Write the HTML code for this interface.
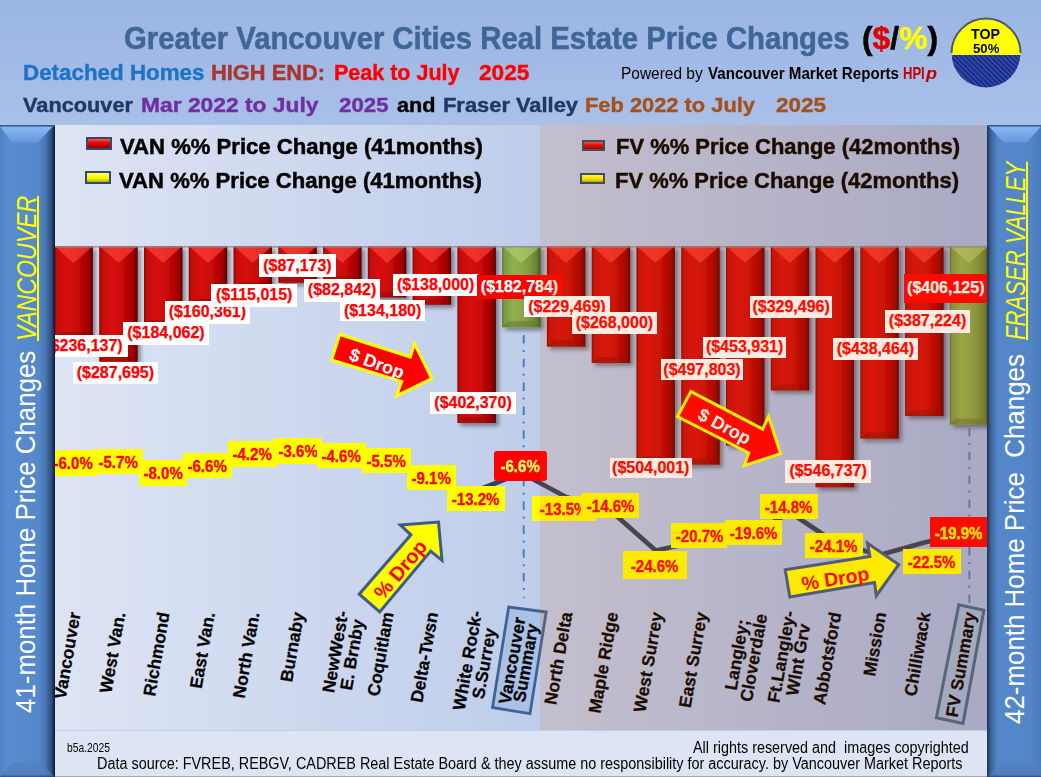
<!DOCTYPE html><html><head><meta charset="utf-8"><style>
html,body{margin:0;padding:0}
body{width:1041px;height:777px;position:relative;overflow:hidden;background:linear-gradient(#9bb5e3,#a9c0e8 125px);font-family:"Liberation Sans",sans-serif}
.t{position:absolute;white-space:pre;transform-origin:0 0}
.box{position:absolute;white-space:pre;font-weight:bold;text-align:center;box-sizing:border-box;overflow:visible}
.dl{background:#fff;color:#f00;font-size:16px;-webkit-text-stroke-width:0.25px}
.pl{background:#ff0;color:#f00;font-size:16.2px}
.pl span{-webkit-text-stroke-width:0.35px;display:inline-block;transform:scaleX(0.93);position:relative;top:1px}
.cl{-webkit-text-stroke-width:0.25px;position:absolute;white-space:pre;font-weight:bold;font-size:17.4px;line-height:16.5px;text-align:center;transform-origin:100% 50%;color:#000}
svg{position:absolute;left:0;top:0}
</style></head><body>

<div class="t" style="left:124.4px;top:22.5px;font-size:30.5px;line-height:30.5px;color:#3f6697;font-weight:bold;font-style:normal;transform:scaleX(0.9596);-webkit-text-stroke-width:0.5px;">Greater Vancouver Cities Real Estate Price Changes</div>
<div class="t" style="left:861.5px;top:22.5px;font-size:30.5px;line-height:30.5px;font-weight:bold;color:#000;-webkit-text-stroke-width:0.5px;transform:scaleX(1.0429)">(<span style="color:#e00000">$</span>/<span style="color:#ffff00">%</span>)</div>
<div class="t" style="left:22.5px;top:62.1px;font-size:22.2px;line-height:22.2px;color:#1e73c6;font-weight:bold;font-style:normal;transform:scaleX(1.0082);-webkit-text-stroke-width:0.4px;">Detached Homes</div>
<div class="t" style="left:211.0px;top:62.1px;font-size:22.2px;line-height:22.2px;color:#a8362c;font-weight:bold;font-style:normal;transform:scaleX(0.9840);-webkit-text-stroke-width:0.4px;">HIGH END:</div>
<div class="t" style="left:333.5px;top:62.1px;font-size:22.2px;line-height:22.2px;color:#ff0000;font-weight:bold;font-style:normal;transform:scaleX(0.9690);-webkit-text-stroke-width:0.4px;">Peak to July</div>
<div class="t" style="left:478.5px;top:62.1px;font-size:22.2px;line-height:22.2px;color:#ff0000;font-weight:bold;font-style:normal;transform:scaleX(1.0228);-webkit-text-stroke-width:0.4px;">2025</div>
<div class="t" style="left:22.5px;top:94.5px;font-size:20.6px;line-height:20.6px;color:#1f3864;font-weight:bold;font-style:normal;transform:scaleX(1.0561);-webkit-text-stroke-width:0.4px;">Vancouver</div>
<div class="t" style="left:141.0px;top:94.5px;font-size:20.6px;line-height:20.6px;color:#7030a0;font-weight:bold;font-style:normal;transform:scaleX(1.1078);-webkit-text-stroke-width:0.4px;">Mar 2022 to July</div>
<div class="t" style="left:339.0px;top:94.5px;font-size:20.6px;line-height:20.6px;color:#7030a0;font-weight:bold;font-style:normal;transform:scaleX(1.0805);-webkit-text-stroke-width:0.4px;">2025</div>
<div class="t" style="left:396.5px;top:94.5px;font-size:20.6px;line-height:20.6px;color:#000000;font-weight:bold;font-style:normal;transform:scaleX(1.0516);-webkit-text-stroke-width:0.4px;">and</div>
<div class="t" style="left:442.5px;top:94.5px;font-size:20.6px;line-height:20.6px;color:#1f3864;font-weight:bold;font-style:normal;transform:scaleX(1.0623);-webkit-text-stroke-width:0.4px;">Fraser Valley</div>
<div class="t" style="left:585.0px;top:94.5px;font-size:20.6px;line-height:20.6px;color:#a3521e;font-weight:bold;font-style:normal;transform:scaleX(1.0610);-webkit-text-stroke-width:0.4px;">Feb 2022 to July</div>
<div class="t" style="left:776.0px;top:94.5px;font-size:20.6px;line-height:20.6px;color:#a3521e;font-weight:bold;font-style:normal;transform:scaleX(1.0914);-webkit-text-stroke-width:0.4px;">2025</div>
<div class="t" style="left:621.4px;top:65.2px;font-size:16.5px;line-height:16.5px;color:#000;font-weight:normal;font-style:normal;transform:scaleX(0.9368);">Powered by</div>
<div class="t" style="left:708.0px;top:65.2px;font-size:16.5px;line-height:16.5px;color:#000;font-weight:bold;font-style:normal;transform:scaleX(0.9177);">Vancouver Market Reports</div>
<div class="t" style="left:903.3px;top:65.2px;font-size:16.5px;line-height:16.5px;color:#c00000;font-weight:bold;font-style:normal;transform:scaleX(0.7891);">HPI</div>
<div class="t" style="left:925.5px;top:65.2px;font-size:16.5px;line-height:16.5px;color:#c00000;font-weight:bold;font-style:italic;transform:scaleX(1.1014);">p</div>
<svg width="1041" height="777" style="left:0;top:0">
<defs><pattern id="hatch" width="3.5" height="3.5" patternUnits="userSpaceOnUse" patternTransform="rotate(-45)"><rect width="3.5" height="3.5" fill="#1b2c88"/><rect width="1.1" height="3.5" fill="#3a58b8"/></pattern>
<clipPath id="cc"><circle cx="986" cy="53" r="34.5"/></clipPath></defs>
<g clip-path="url(#cc)"><rect x="950" y="16" width="72" height="39" fill="#ffff00"/><rect x="950" y="55" width="72" height="34" fill="url(#hatch)"/></g>
<path d="M951.5,53 A34.5,34.5 0 0 1 1020.5,53" fill="none" stroke="#4a5570" stroke-width="2"/>
</svg>
<div class="t" style="left:971.0px;top:26.7px;font-size:14.5px;line-height:14.5px;color:#000;font-weight:bold;font-style:normal;transform:scaleX(0.9815);">TOP</div>
<div class="t" style="left:972.6px;top:41.5px;font-size:13.5px;line-height:13.5px;color:#000;font-weight:bold;font-style:normal;transform:scaleX(0.9766);">50%</div>
<div style="position:absolute;left:55px;top:125px;width:932px;height:605px;background:linear-gradient(90deg,#dde4f4 0%,#bfcdea 52%,#a1b5e0 100%)"></div>
<div style="position:absolute;left:55px;top:730px;width:932px;height:47px;background:#dde4f3;border-top:1px solid #b9d0ee;border-bottom:1px solid #a8a8ac;box-sizing:border-box"></div>
<svg width="1041" height="777"><defs><linearGradient id="gr" x1="0" x2="1"><stop offset="0" stop-color="#8c0404"/><stop offset="0.05" stop-color="#c00806"/><stop offset="0.3" stop-color="#d80e0a"/><stop offset="0.55" stop-color="#cc0a08"/><stop offset="0.75" stop-color="#b60404"/><stop offset="0.9" stop-color="#9a0202"/><stop offset="1" stop-color="#5a0000"/></linearGradient><linearGradient id="gg" x1="0" x2="1"><stop offset="0" stop-color="#5a6e2c"/><stop offset="0.05" stop-color="#7c9840"/><stop offset="0.3" stop-color="#92b050"/><stop offset="0.55" stop-color="#88a648"/><stop offset="0.75" stop-color="#7a963e"/><stop offset="0.9" stop-color="#688232"/><stop offset="1" stop-color="#44561e"/></linearGradient><filter id="sh" x="-20%" y="-5%" width="150%" height="120%"><feGaussianBlur in="SourceAlpha" stdDeviation="2"/><feOffset dx="2.5" dy="2.5"/><feComponentTransfer><feFuncA type="linear" slope="0.4"/></feComponentTransfer><feMerge><feMergeNode/><feMergeNode in="SourceGraphic"/></feMerge></filter></defs><g filter="url(#sh)"><rect x="54.4" y="246" width="38.5" height="92.0" fill="url(#gr)"/><polygon points="54.4,246 92.9,246 73.7,263.0" fill="#ff4a44" opacity="0.6"/><polygon points="54.4,338.0 92.9,338.0 86.9,332.0 60.4,332.0" fill="#8e0a06" opacity="0.55"/></g><g filter="url(#sh)"><rect x="99.2" y="246" width="38.5" height="115.7" fill="url(#gr)"/><polygon points="99.2,246 137.7,246 118.5,263.0" fill="#ff4a44" opacity="0.6"/><polygon points="99.2,361.7 137.7,361.7 131.7,355.7 105.2,355.7" fill="#8e0a06" opacity="0.55"/></g><g filter="url(#sh)"><rect x="144.0" y="246" width="38.5" height="80.0" fill="url(#gr)"/><polygon points="144.0,246 182.5,246 163.2,263.0" fill="#ff4a44" opacity="0.6"/><polygon points="144.0,326.0 182.5,326.0 176.5,320.0 150.0,320.0" fill="#8e0a06" opacity="0.55"/></g><g filter="url(#sh)"><rect x="188.7" y="246" width="38.5" height="59.0" fill="url(#gr)"/><polygon points="188.7,246 227.2,246 208.0,263.0" fill="#ff4a44" opacity="0.6"/><polygon points="188.7,305.0 227.2,305.0 221.2,299.0 194.7,299.0" fill="#8e0a06" opacity="0.55"/></g><g filter="url(#sh)"><rect x="233.5" y="246" width="38.5" height="42.0" fill="url(#gr)"/><polygon points="233.5,246 272.0,246 252.8,263.0" fill="#ff4a44" opacity="0.6"/><polygon points="233.5,288.0 272.0,288.0 266.0,282.0 239.5,282.0" fill="#8e0a06" opacity="0.55"/></g><g filter="url(#sh)"><rect x="278.3" y="246" width="38.5" height="36.8" fill="url(#gr)"/><polygon points="278.3,246 316.8,246 297.5,263.0" fill="#ff4a44" opacity="0.6"/><polygon points="278.3,282.8 316.8,282.8 310.8,276.8 284.3,276.8" fill="#8e0a06" opacity="0.55"/></g><g filter="url(#sh)"><rect x="323.1" y="246" width="38.5" height="36.0" fill="url(#gr)"/><polygon points="323.1,246 361.6,246 342.3,263.0" fill="#ff4a44" opacity="0.6"/><polygon points="323.1,282.0 361.6,282.0 355.6,276.0 329.1,276.0" fill="#8e0a06" opacity="0.55"/></g><g filter="url(#sh)"><rect x="367.8" y="246" width="38.5" height="51.5" fill="url(#gr)"/><polygon points="367.8,246 406.3,246 387.1,263.0" fill="#ff4a44" opacity="0.6"/><polygon points="367.8,297.5 406.3,297.5 400.3,291.5 373.8,291.5" fill="#8e0a06" opacity="0.55"/></g><g filter="url(#sh)"><rect x="412.6" y="246" width="38.5" height="58.7" fill="url(#gr)"/><polygon points="412.6,246 451.1,246 431.8,263.0" fill="#ff4a44" opacity="0.6"/><polygon points="412.6,304.7 451.1,304.7 445.1,298.7 418.6,298.7" fill="#8e0a06" opacity="0.55"/></g><g filter="url(#sh)"><rect x="457.4" y="246" width="38.5" height="177.0" fill="url(#gr)"/><polygon points="457.4,246 495.9,246 476.6,263.0" fill="#ff4a44" opacity="0.6"/><polygon points="457.4,423.0 495.9,423.0 489.9,417.0 463.4,417.0" fill="#8e0a06" opacity="0.55"/></g><g filter="url(#sh)"><rect x="502.1" y="246" width="38.5" height="81.3" fill="url(#gg)"/><polygon points="502.1,246 540.6,246 521.4,263.0" fill="#b4d078" opacity="0.6"/><polygon points="502.1,327.3 540.6,327.3 534.6,321.3 508.1,321.3" fill="#5e7630" opacity="0.55"/></g><g filter="url(#sh)"><rect x="546.9" y="246" width="38.5" height="100.6" fill="url(#gr)"/><polygon points="546.9,246 585.4,246 566.1,263.0" fill="#ff4a44" opacity="0.6"/><polygon points="546.9,346.6 585.4,346.6 579.4,340.6 552.9,340.6" fill="#8e0a06" opacity="0.55"/></g><g filter="url(#sh)"><rect x="591.7" y="246" width="38.5" height="117.0" fill="url(#gr)"/><polygon points="591.7,246 630.2,246 610.9,263.0" fill="#ff4a44" opacity="0.6"/><polygon points="591.7,363.0 630.2,363.0 624.2,357.0 597.7,357.0" fill="#8e0a06" opacity="0.55"/></g><g filter="url(#sh)"><rect x="636.4" y="246" width="38.5" height="216.0" fill="url(#gr)"/><polygon points="636.4,246 674.9,246 655.7,263.0" fill="#ff4a44" opacity="0.6"/><polygon points="636.4,462.0 674.9,462.0 668.9,456.0 642.4,456.0" fill="#8e0a06" opacity="0.55"/></g><g filter="url(#sh)"><rect x="681.2" y="246" width="38.5" height="218.6" fill="url(#gr)"/><polygon points="681.2,246 719.7,246 700.5,263.0" fill="#ff4a44" opacity="0.6"/><polygon points="681.2,464.6 719.7,464.6 713.7,458.6 687.2,458.6" fill="#8e0a06" opacity="0.55"/></g><g filter="url(#sh)"><rect x="726.0" y="246" width="38.5" height="199.5" fill="url(#gr)"/><polygon points="726.0,246 764.5,246 745.2,263.0" fill="#ff4a44" opacity="0.6"/><polygon points="726.0,445.5 764.5,445.5 758.5,439.5 732.0,439.5" fill="#8e0a06" opacity="0.55"/></g><g filter="url(#sh)"><rect x="770.8" y="246" width="38.5" height="144.4" fill="url(#gr)"/><polygon points="770.8,246 809.2,246 790.0,263.0" fill="#ff4a44" opacity="0.6"/><polygon points="770.8,390.4 809.2,390.4 803.2,384.4 776.8,384.4" fill="#8e0a06" opacity="0.55"/></g><g filter="url(#sh)"><rect x="815.5" y="246" width="38.5" height="241.2" fill="url(#gr)"/><polygon points="815.5,246 854.0,246 834.8,263.0" fill="#ff4a44" opacity="0.6"/><polygon points="815.5,487.2 854.0,487.2 848.0,481.2 821.5,481.2" fill="#8e0a06" opacity="0.55"/></g><g filter="url(#sh)"><rect x="860.3" y="246" width="38.5" height="192.5" fill="url(#gr)"/><polygon points="860.3,246 898.8,246 879.5,263.0" fill="#ff4a44" opacity="0.6"/><polygon points="860.3,438.5 898.8,438.5 892.8,432.5 866.3,432.5" fill="#8e0a06" opacity="0.55"/></g><g filter="url(#sh)"><rect x="905.1" y="246" width="38.5" height="170.0" fill="url(#gr)"/><polygon points="905.1,246 943.6,246 924.3,263.0" fill="#ff4a44" opacity="0.6"/><polygon points="905.1,416.0 943.6,416.0 937.6,410.0 911.1,410.0" fill="#8e0a06" opacity="0.55"/></g><g filter="url(#sh)"><rect x="949.8" y="246" width="38.5" height="178.6" fill="url(#gg)"/><polygon points="949.8,246 988.3,246 969.1,263.0" fill="#b4d078" opacity="0.6"/><polygon points="949.8,424.6 988.3,424.6 982.3,418.6 955.8,418.6" fill="#5e7630" opacity="0.55"/></g><line x1="55" y1="246.8" x2="987" y2="246.8" stroke="#8c8c8c" stroke-width="1.2"/><line x1="523.7" y1="335" x2="523.7" y2="598" stroke="#4a7ec0" stroke-width="2" stroke-dasharray="8.5,6.5,2,6.8"/><line x1="969.4" y1="428" x2="969.4" y2="604" stroke="#4a7ec0" stroke-width="2" stroke-dasharray="8.5,6.5,2,6.8"/><polyline points="73.7,462.7 118.4,461.2 163.2,472.8 208.0,465.5 252.7,454.0 297.5,450.8 342.3,455.7 387.0,458.5 431.8,486.0 476.6,490.5 521.4,473.0 566.1,497.0 610.9,511.0 655.7,550.5 700.4,541.0 745.2,538.0 790.0,512.5 834.7,542.0 879.5,555.0 924.3,542.5 969.1,533.0" fill="none" stroke="#34425c" stroke-width="4.8" stroke-linejoin="round"/></svg>
<svg width="1041" height="777"><polygon points="546.2,612 508.7,607 492.5,707.5 530,713.7" fill="#a9c1e6" stroke="#3f6392" stroke-width="2.8"/><polygon points="983.9,610.3 958.8,604.7 936.4,717.8 963,723.4" fill="#9cb4d8" stroke="#42678b" stroke-width="3"/></svg>
<div class="box dl" style="left:40.0px;top:334.7px;width:88.0px;height:22.1px;line-height:22.1px;">($236,137)</div>
<div class="box dl" style="left:73.0px;top:362.0px;width:84.8px;height:22.0px;line-height:22.0px;">($287,695)</div>
<div class="box dl" style="left:123.2px;top:321.9px;width:85.6px;height:22.8px;line-height:22.8px;">($184,062)</div>
<div class="box dl" style="left:164.7px;top:301.2px;width:85.3px;height:22.8px;line-height:22.8px;">($160,361)</div>
<div class="box dl" style="left:211.4px;top:284.2px;width:85.6px;height:22.8px;line-height:22.8px;">($115,015)</div>
<div class="box dl" style="left:259.2px;top:254.0px;width:76.5px;height:23.1px;line-height:23.1px;">($87,173)</div>
<div class="box dl" style="left:304.3px;top:279.0px;width:75.5px;height:22.6px;line-height:22.6px;">($82,842)</div>
<div class="box dl" style="left:340.4px;top:299.5px;width:84.4px;height:21.9px;line-height:21.9px;">($134,180)</div>
<div class="box dl" style="left:393.2px;top:273.8px;width:84.8px;height:22.6px;line-height:22.6px;">($138,000)</div>
<div class="box dl" style="left:430.3px;top:392.2px;width:85.5px;height:21.8px;line-height:21.8px;">($402,370)</div>
<div class="box dl" style="left:477.0px;top:274.7px;width:85.0px;height:23.9px;line-height:23.9px;background:#f00;color:#fff;">($182,784)</div>
<div class="box dl" style="left:524.2px;top:296.4px;width:85.5px;height:21.1px;line-height:21.1px;">($229,469)</div>
<div class="box dl" style="left:571.9px;top:312.4px;width:85.1px;height:21.3px;line-height:21.3px;">($268,000)</div>
<div class="box dl" style="left:609.5px;top:457.7px;width:82.5px;height:20.8px;line-height:20.8px;">($504,001)</div>
<div class="box dl" style="left:660.6px;top:359.3px;width:82.8px;height:21.2px;line-height:21.2px;">($497,803)</div>
<div class="box dl" style="left:703.4px;top:336.7px;width:82.4px;height:20.9px;line-height:20.9px;">($453,931)</div>
<div class="box dl" style="left:750.3px;top:296.0px;width:81.7px;height:21.6px;line-height:21.6px;">($329,496)</div>
<div class="box dl" style="left:785.2px;top:460.4px;width:85.8px;height:22.6px;line-height:22.6px;">($546,737)</div>
<div class="box dl" style="left:832.8px;top:338.4px;width:85.2px;height:21.2px;line-height:21.2px;">($438,464)</div>
<div class="box dl" style="left:885.0px;top:310.0px;width:85.1px;height:22.5px;line-height:22.5px;">($387,224)</div>
<div class="box dl" style="left:904.1px;top:274.1px;width:83.4px;height:28.9px;line-height:28.9px;background:#f00;color:#fff;">($406,125)</div>
<div class="box pl" style="left:49.0px;top:450.0px;width:49.0px;height:25.5px;line-height:25.5px;"><span>-6.0%</span></div>
<div class="box pl" style="left:93.7px;top:448.7px;width:49.3px;height:25.0px;line-height:25.0px;"><span>-5.7%</span></div>
<div class="box pl" style="left:139.2px;top:460.0px;width:47.8px;height:25.7px;line-height:25.7px;"><span>-8.0%</span></div>
<div class="box pl" style="left:183.0px;top:453.0px;width:49.0px;height:25.0px;line-height:25.0px;"><span>-6.6%</span></div>
<div class="box pl" style="left:228.0px;top:441.2px;width:49.0px;height:25.5px;line-height:25.5px;"><span>-4.2%</span></div>
<div class="box pl" style="left:273.8px;top:437.9px;width:48.2px;height:25.9px;line-height:25.9px;"><span>-3.6%</span></div>
<div class="box pl" style="left:317.0px;top:443.0px;width:48.8px;height:25.4px;line-height:25.4px;"><span>-4.6%</span></div>
<div class="box pl" style="left:361.7px;top:448.0px;width:49.0px;height:25.3px;line-height:25.3px;"><span>-5.5%</span></div>
<div class="box pl" style="left:407.0px;top:464.7px;width:49.0px;height:25.3px;line-height:25.3px;"><span>-9.1%</span></div>
<div class="box pl" style="left:447.1px;top:486.0px;width:58.1px;height:25.2px;line-height:25.2px;"><span>-13.2%</span></div>
<div class="box pl" style="left:494.0px;top:451.0px;width:52.7px;height:29.5px;line-height:29.5px;background:#f00;color:#ffff60;border-radius:3px;"><span>-6.6%</span></div>
<div class="box pl" style="left:532.0px;top:496.2px;width:64.2px;height:24.5px;line-height:24.5px;"><span>-13.5%</span></div>
<div class="box pl" style="left:581.2px;top:493.0px;width:58.0px;height:25.0px;line-height:25.0px;"><span>-14.6%</span></div>
<div class="box pl" style="left:623.0px;top:550.7px;width:64.0px;height:28.0px;line-height:28.0px;"><span>-24.6%</span></div>
<div class="box pl" style="left:671.2px;top:523.2px;width:56.3px;height:24.8px;line-height:24.8px;"><span>-20.7%</span></div>
<div class="box pl" style="left:724.5px;top:520.0px;width:57.5px;height:25.0px;line-height:25.0px;"><span>-19.6%</span></div>
<div class="box pl" style="left:759.6px;top:494.0px;width:58.8px;height:25.2px;line-height:25.2px;"><span>-14.8%</span></div>
<div class="box pl" style="left:805.2px;top:532.9px;width:57.7px;height:24.8px;line-height:24.8px;"><span>-24.1%</span></div>
<div class="box pl" style="left:903.0px;top:549.2px;width:57.9px;height:25.3px;line-height:25.3px;"><span>-22.5%</span></div>
<div class="box pl" style="left:930.0px;top:516.8px;width:57.3px;height:30.5px;line-height:30.5px;background:#f00;color:#ffff00;"><span>-19.9%</span></div>
<svg width="1041" height="777"><polygon points="339.7,334.5 331.6,360 401.7,381.4 396.5,395.9 431.8,378.5 414.4,343.7 410.4,357" fill="#ff0000" stroke="#ffff00" stroke-width="3" stroke-linejoin="miter"/><polygon points="690.9,391.6 677.5,416.5 748.8,453 744.1,465.7 780.6,453.6 768.5,416.5 762.7,429.2" fill="#ff0000" stroke="#ffff00" stroke-width="3"/><polygon points="359.2,594.2 379.7,611.9 430.7,551 442,560.3 438.5,522 400.3,524.9 410.9,534.8" fill="#ffff00" stroke="#3e5d86" stroke-width="3"/><polygon points="785.2,569.8 789.8,596.9 874.5,582.4 876.3,595.7 898.7,564.6 867.6,543.3 869.9,556.5" fill="#ffff00" stroke="#3e5d86" stroke-width="3"/><text x="0" y="0" transform="translate(376.8,363.5) rotate(20)" font-family="Liberation Sans" font-weight="bold" font-size="18" fill="#fff" text-anchor="middle" dominant-baseline="central">$ Drop</text><text x="0" y="0" transform="translate(724.4,426.5) rotate(28)" font-family="Liberation Sans" font-weight="bold" font-size="18" fill="#fff" text-anchor="middle" dominant-baseline="central">$ Drop</text><text x="0" y="0" transform="translate(400.3,569.5) rotate(-50)" font-family="Liberation Sans" font-weight="bold" font-size="20" fill="#f00" text-anchor="middle" dominant-baseline="central">% Drop</text><text x="0" y="0" transform="translate(835.3,578.4) rotate(-9)" font-family="Liberation Sans" font-weight="bold" font-size="19.5" fill="#f00" text-anchor="middle" dominant-baseline="central">% Drop</text></svg>
<div class="cl" style="left:-13.3px;top:603.8px;width:88.0px;height:16.5px;line-height:16.5px;transform:rotate(-80deg)">Vancouver</div>
<div class="cl" style="left:37.6px;top:603.8px;width:81.8px;height:16.5px;line-height:16.5px;transform:rotate(-80deg)">West Van.</div>
<div class="cl" style="left:79.2px;top:603.8px;width:85.0px;height:16.5px;line-height:16.5px;transform:rotate(-80deg)">Richmond</div>
<div class="cl" style="left:131.6px;top:603.8px;width:77.3px;height:16.5px;line-height:16.5px;transform:rotate(-80deg)">East Van.</div>
<div class="cl" style="left:166.8px;top:603.8px;width:87.0px;height:16.5px;line-height:16.5px;transform:rotate(-80deg)">North Van.</div>
<div class="cl" style="left:228.0px;top:603.8px;width:70.5px;height:16.5px;line-height:16.5px;transform:rotate(-80deg)">Burnaby</div>
<div class="cl" style="left:267.5px;top:595.5px;width:82.8px;height:33.0px;line-height:16.5px;transform:rotate(-80deg)">NewWest-<br>E. Brnby</div>
<div class="cl" style="left:303.0px;top:603.8px;width:85.0px;height:16.5px;line-height:16.5px;transform:rotate(-80deg)">Coquitlam</div>
<div class="cl" style="left:341.3px;top:603.8px;width:91.5px;height:16.5px;line-height:16.5px;transform:rotate(-80deg)">Delta-Twsn</div>
<div class="cl" style="left:384.1px;top:595.5px;width:100.5px;height:33.0px;line-height:16.5px;transform:rotate(-80deg)">White Rock-<br>S.Surrey</div>
<div class="cl" style="left:439.4px;top:604.5px;width:88.0px;height:27.0px;line-height:13.5px;transform:rotate(-80deg)">Vancouver<br>Summary</div>
<div class="cl" style="left:473.4px;top:603.8px;width:93.7px;height:16.5px;line-height:16.5px;transform:rotate(-80deg)">North Delta</div>
<div class="cl" style="left:509.5px;top:603.8px;width:102.4px;height:16.5px;line-height:16.5px;transform:rotate(-80deg)">Maple Ridge</div>
<div class="cl" style="left:555.5px;top:603.8px;width:101.2px;height:16.5px;line-height:16.5px;transform:rotate(-80deg)">West Surrey</div>
<div class="cl" style="left:604.8px;top:603.8px;width:96.7px;height:16.5px;line-height:16.5px;transform:rotate(-80deg)">East Surrey</div>
<div class="cl" style="left:664.3px;top:595.5px;width:88.9px;height:33.0px;line-height:16.5px;transform:rotate(-80deg)">Langley;<br>Cloverdale</div>
<div class="cl" style="left:705.2px;top:595.5px;width:92.8px;height:33.0px;line-height:16.5px;transform:rotate(-80deg)">Ft.Langley-<br>Wlnt Grv</div>
<div class="cl" style="left:742.0px;top:603.8px;width:93.7px;height:16.5px;line-height:16.5px;transform:rotate(-80deg)">Abbotsford</div>
<div class="cl" style="left:815.8px;top:603.8px;width:64.7px;height:16.5px;line-height:16.5px;transform:rotate(-80deg)">Mission</div>
<div class="cl" style="left:840.2px;top:603.8px;width:85.0px;height:16.5px;line-height:16.5px;transform:rotate(-80deg)">Chilliwack</div>
<div class="cl" style="left:863.7px;top:603.8px;width:106.3px;height:16.5px;line-height:16.5px;transform:rotate(-80deg)">FV Summary</div>
<div style="position:absolute;left:86.2px;top:136.9px;width:25.8px;height:13.6px;background:linear-gradient(#ff5a4a,#e81010 35%,#d00000 65%,#900000);border:2.5px solid #2f4a6e;box-sizing:border-box"></div>
<div style="position:absolute;left:85.4px;top:171.2px;width:25.4px;height:12.6px;background:linear-gradient(#ffff80,#ffff00 35%,#f0f000 65%,#b0b000);border:2.5px solid #2f4a6e;box-sizing:border-box"></div>
<div style="position:absolute;left:581.5px;top:139.5px;width:23.9px;height:11.1px;background:linear-gradient(#ff5a4a,#e81010 35%,#d00000 65%,#900000);border:2.5px solid #2f4a6e;box-sizing:border-box"></div>
<div style="position:absolute;left:579.8px;top:172.5px;width:25.6px;height:11.2px;background:linear-gradient(#ffff80,#ffff00 35%,#f0f000 65%,#b0b000);border:2.5px solid #2f4a6e;box-sizing:border-box"></div>
<div class="t" style="left:120.3px;top:136.3px;font-size:22.5px;line-height:22.5px;color:#000;font-weight:bold;font-style:normal;transform:scaleX(0.9819);-webkit-text-stroke:0.5px #000;">VAN %% Price Change (41months)</div>
<div class="t" style="left:119.2px;top:169.9px;font-size:22.5px;line-height:22.5px;color:#000;font-weight:bold;font-style:normal;transform:scaleX(0.9819);-webkit-text-stroke:0.5px #000;">VAN %% Price Change (41months)</div>
<div class="t" style="left:615.8px;top:136.3px;font-size:22.5px;line-height:22.5px;color:#000;font-weight:bold;font-style:normal;transform:scaleX(0.9756);-webkit-text-stroke:0.5px #000;">FV %% Price Change (42months)</div>
<div class="t" style="left:614.5px;top:169.9px;font-size:22.5px;line-height:22.5px;color:#000;font-weight:bold;font-style:normal;transform:scaleX(0.9756);-webkit-text-stroke:0.5px #000;">FV %% Price Change (42months)</div>
<div style="position:absolute;left:540px;top:125px;width:447px;height:605px;background:rgba(230,88,0,0.12)"></div>
<svg width="1041" height="777">
<defs><linearGradient id="pl" x1="0" x2="1"><stop offset="0" stop-color="#4f82c4"/><stop offset="0.12" stop-color="#5a8dd0"/><stop offset="0.7" stop-color="#5488ca"/><stop offset="0.82" stop-color="#4a78b4"/><stop offset="0.94" stop-color="#2c4c7c"/><stop offset="1" stop-color="#0c1626"/></linearGradient>
<linearGradient id="pr" x1="0" x2="1"><stop offset="0" stop-color="#1c3252"/><stop offset="0.07" stop-color="#3a629a"/><stop offset="0.2" stop-color="#5487ca"/><stop offset="0.8" stop-color="#5386c8"/><stop offset="1" stop-color="#4a7ab8"/></linearGradient>
<linearGradient id="tb" x1="0" x2="0" y1="0" y2="1"><stop offset="0" stop-color="#88b8f2"/><stop offset="1" stop-color="#6697da"/></linearGradient>
<linearGradient id="bb" x1="0" x2="0" y1="0" y2="1"><stop offset="0" stop-color="#5282c0"/><stop offset="0.85" stop-color="#4e7cb8"/><stop offset="1" stop-color="#2a3e60"/></linearGradient></defs>
<rect x="0" y="125" width="55" height="652" fill="url(#pl)"/>
<polygon points="0,126.5 53,126.5 37.5,142.5 12.5,142.5" fill="url(#tb)"/>
<polygon points="0,777 55,777 40,762.5 12,762.5" fill="url(#bb)" opacity="0.8"/>
<rect x="46" y="125" width="9" height="652" fill="url(#pl)" opacity="0"/>
<line x1="0" y1="125.7" x2="55" y2="125.7" stroke="#3a5e8e" stroke-width="1.5"/>
<rect x="987" y="125" width="54" height="652" fill="url(#pr)"/>
<polygon points="989,126.5 1041,126.5 1027,142.5 1003.5,142.5" fill="url(#tb)"/>
<polygon points="987,777 1041,777 1041,762.5 1003,762.5" fill="url(#bb)" opacity="0.8"/>
<line x1="987" y1="125.7" x2="1041" y2="125.7" stroke="#3a5e8e" stroke-width="1.5"/>
</svg>
<div class="t" style="left:13.0px;top:712.5px;font-size:27px;line-height:27px;color:#fff;font-style:normal;transform:rotate(-90deg) scaleX(0.9578);">41-month Home Price Changes</div>
<div class="t" style="left:13.6px;top:340.7px;font-size:27px;line-height:27px;color:#ffff00;font-style:italic;transform:rotate(-90deg) scaleX(0.8562);text-decoration:underline;text-decoration-thickness:1.5px;text-underline-offset:1px">VANCOUVER</div>
<div class="t" style="left:1002.3px;top:724.3px;font-size:27px;line-height:27px;color:#fff;font-style:normal;transform:rotate(-90deg) scaleX(0.9591);">42-month Home Price  Changes</div>
<div class="t" style="left:1003.1px;top:340.0px;font-size:27px;line-height:27px;color:#ffff00;font-style:italic;transform:rotate(-90deg) scaleX(0.8196);text-decoration:underline;text-decoration-thickness:1.5px;text-underline-offset:1px">FRASER VALLEY</div>
<div class="t" style="left:67.0px;top:741.7px;font-size:12.5px;line-height:12.5px;color:#000;font-weight:normal;font-style:normal;transform:scaleX(0.8247);">b5a.2025</div>
<div class="t" style="left:692.5px;top:740.3px;font-size:16px;line-height:16px;color:#000;font-weight:normal;font-style:normal;transform:scaleX(0.8988);">All rights reserved and  images copyrighted</div>
<div class="t" style="left:96.8px;top:755.8px;font-size:16px;line-height:16px;color:#000;font-weight:normal;font-style:normal;transform:scaleX(0.9006);">Data source: FVREB, REBGV, CADREB Real Estate Board &amp; they assume no responsibility for accuracy. by Vancouver Market Reports</div>
</body></html>
